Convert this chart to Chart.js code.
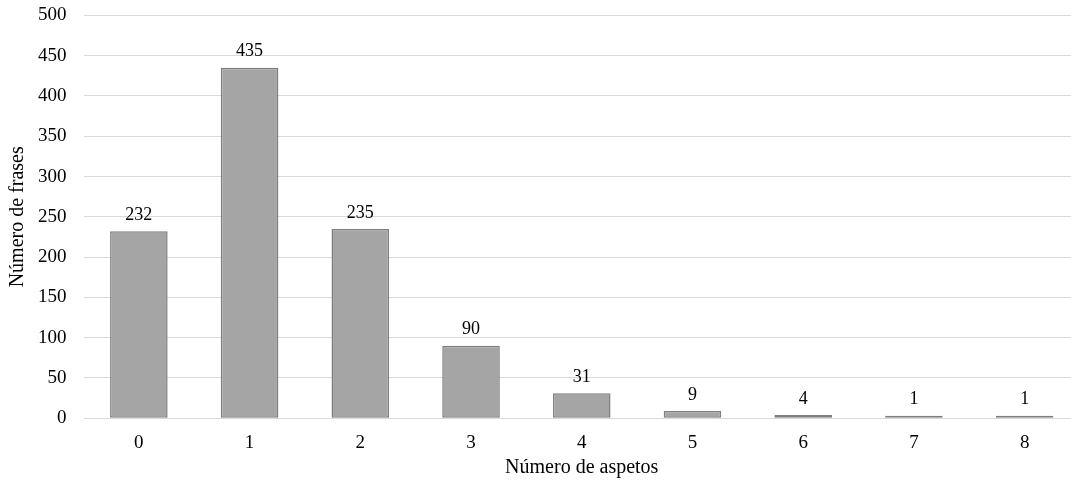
<!DOCTYPE html>
<html>
<head>
<meta charset="utf-8">
<script src="https://cdn.jsdelivr.net/npm/chart.js@4"></script>
<style>
  html, body { margin: 0; padding: 0; background: #fff; overflow: hidden; }
  #wrap { width: 1080px; height: 495px; margin-top: -13px; }
</style>
</head>
<body>
<div id="wrap"><canvas id="c" width="1080" height="495"></canvas></div>
<script>
const categories = ["0", "1", "2", "3", "4", "5", "6", "7", "8"];
const frases = [232, 435, 235, 90, 31, 9, 4, 1, 1];

const fontFamily = "'Liberation Serif', 'Times New Roman', serif";
const textColor = "#000";

const valueLabels = {
  id: "valueLabels",
  afterDatasetsDraw(chart) {
    const ctx = chart.ctx;
    const meta = chart.getDatasetMeta(0);
    ctx.save();
    ctx.font = "18px " + fontFamily;
    ctx.fillStyle = textColor;
    ctx.textAlign = "center";
    ctx.textBaseline = "bottom";
    meta.data.forEach((bar, i) => {
      ctx.fillText(String(frases[i]), bar.x, bar.y - 7);
    });
    ctx.restore();
  },
};

new Chart(document.getElementById("c"), {
  type: "bar",
  data: {
    labels: categories,
    datasets: [
      {
        data: frases,
        backgroundColor: "#a5a5a5",
        borderColor: "#7f7f7f",
        borderWidth: 1.5,
        borderSkipped: false,
        minBarLength: 2.5,
        barPercentage: 0.52,
        categoryPercentage: 1,
      },
    ],
  },
  options: {
    responsive: false,
    animation: false,
    layout: { padding: { top: 0, left: 6, right: 0, bottom: 2 } },
    plugins: {
      legend: { display: false },
      tooltip: { enabled: false },
    },
    scales: {
      x: {
        grid: { display: false },
        border: { display: false },
        ticks: { color: textColor, font: { family: fontFamily, size: 19 }, padding: 5 },
        title: {
          display: true,
          text: "Número de aspetos",
          color: textColor,
          font: { family: fontFamily, size: 20 },
          padding: { top: -3, bottom: 0 },
        },
      },
      y: {
        min: 0,
        max: 500,
        grid: { color: "#d9d9d9", lineWidth: 1, drawTicks: false },
        border: { display: false },
        ticks: {
          stepSize: 50,
          color: textColor,
          font: { family: fontFamily, size: 19 },
          padding: 17,
        },
        title: {
          display: true,
          text: "Número de frases",
          color: textColor,
          font: { family: fontFamily, size: 20 },
          padding: { top: 0, bottom: -9 },
        },
      },
    },
  },
  plugins: [valueLabels],
});
</script>
</body>
</html>
